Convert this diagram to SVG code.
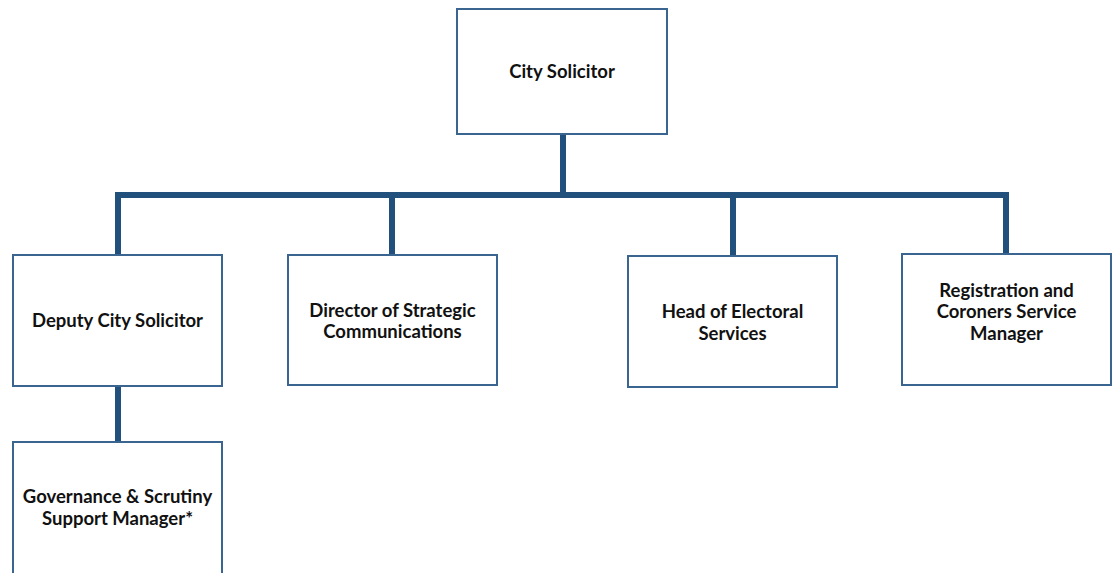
<svg xmlns="http://www.w3.org/2000/svg" width="1113" height="573" viewBox="0 0 1113 573">
<style>
.box{fill:#fff;stroke:#3b6591;stroke-width:2}
.conn{fill:none;stroke:#22507c;stroke-width:6;stroke-linejoin:miter;stroke-linecap:butt}
.t{font-family:Lato,"Liberation Sans",sans-serif;font-weight:bold;font-size:18.5px;fill:#111;text-anchor:middle}
</style>
<rect width="1113" height="573" fill="#fff"/>
<g id="connectors">
<path class="conn" d="M563 134 V195"/>
<path class="conn" d="M118 255 V195 H1006 V255"/>
<path class="conn" d="M392 195 V255"/>
<path class="conn" d="M733 195 V256"/>
<path class="conn" d="M118 386 V442"/>
</g>
<g id="city-solicitor">
<rect class="box" x="457" y="9" width="210" height="125"/>
<text class="t" x="562" y="78">City Solicitor</text>
</g>
<g id="deputy-city-solicitor">
<rect class="box" x="13" y="255" width="209" height="131"/>
<text class="t" x="117.5" y="327">Deputy City Solicitor</text>
</g>
<g id="director-strategic-communications">
<rect class="box" x="288" y="255" width="209" height="130"/>
<text class="t" x="392.5" y="316.5">Director of Strategic</text>
<text class="t" x="392.5" y="338">Communications</text>
</g>
<g id="head-electoral-services">
<rect class="box" x="628" y="256" width="209" height="131"/>
<text class="t" x="732.5" y="318">Head of Electoral</text>
<text class="t" x="732.5" y="340">Services</text>
</g>
<g id="registration-coroners">
<rect class="box" x="902" y="254" width="209" height="131"/>
<text class="t" x="1006.5" y="297">Registration and</text>
<text class="t" x="1006.5" y="318">Coroners Service</text>
<text class="t" x="1006.5" y="340">Manager</text>
</g>
<g id="governance-scrutiny">
<rect class="box" x="13" y="442" width="209" height="140"/>
<text class="t" x="117.5" y="503">Governance &amp; Scrutiny</text>
<text class="t" x="117.5" y="525">Support Manager*</text>
</g>
</svg>
